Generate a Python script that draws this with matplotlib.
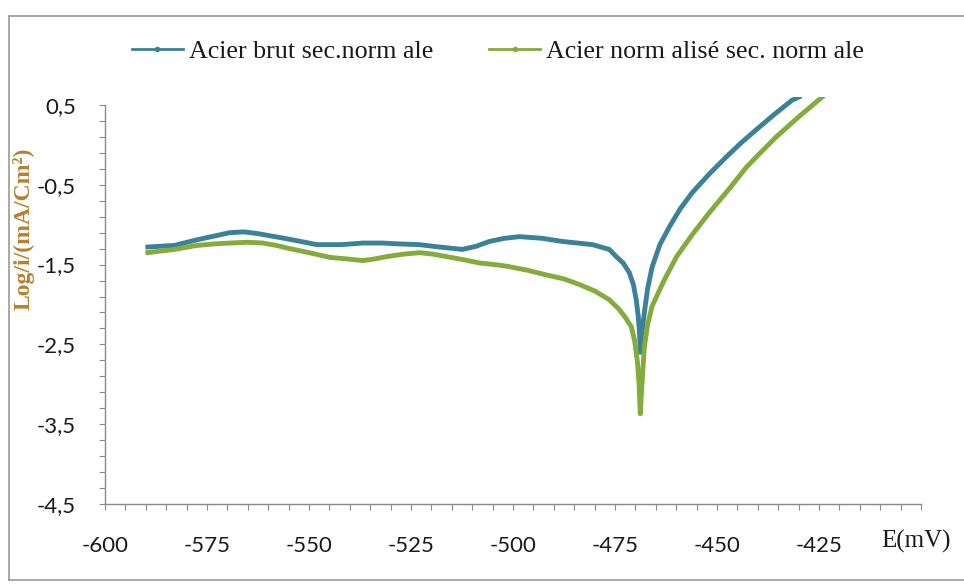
import matplotlib
matplotlib.use('Agg')
import matplotlib.pyplot as plt
from matplotlib.lines import Line2D

plt.rcParams['font.family'] = ['Liberation Serif', 'DejaVu Serif']

# Courbe acier brut (E en mV, log i)
e_brut = [-589.5, -583.0, -577.5, -573.0, -569.4, -566.0, -562.8, -557.2, -552.0, -548.1,
          -542.0, -536.8, -532.0, -528.5, -523.0, -518.0, -512.4, -509.0, -505.8, -502.0,
          -498.4, -493.0, -487.9, -480.5, -476.4, -474.7, -473.0, -471.5, -470.5, -469.8,
          -469.3, -469.0, -468.8, -468.4, -467.8, -467.0, -465.9, -464.0, -461.7, -459.0,
          -456.1, -452.0, -447.7, -444.0, -439.7, -436.0, -431.6, -429.9]
log_brut = [-1.28, -1.26, -1.19, -1.14, -1.10, -1.09, -1.11, -1.16, -1.21, -1.25,
            -1.25, -1.23, -1.23, -1.24, -1.25, -1.28, -1.31, -1.27, -1.21, -1.17,
            -1.15, -1.17, -1.21, -1.25, -1.31, -1.40, -1.48, -1.60, -1.75, -1.94,
            -2.15, -2.35, -2.60, -2.35, -2.10, -1.80, -1.53, -1.25, -1.03, -0.80,
            -0.60, -0.37, -0.15, 0.03, 0.22, 0.38, 0.56, 0.60]

# Courbe acier normalisé
e_norm = [-589.5, -583.0, -577.5, -573.0, -569.4, -565.0, -561.3, -558.0, -554.7, -550.0,
          -544.9, -540.5, -536.8, -534.0, -531.0, -527.0, -522.9, -519.5, -516.3, -512.0,
          -508.2, -504.5, -501.6, -496.5, -491.8, -487.5, -483.7, -480.0, -476.4, -474.0,
          -472.5, -471.0, -470.2, -469.5, -469.1, -468.8, -468.4, -467.8, -467.0, -465.9,
          -463.0, -459.9, -456.0, -451.9, -447.0, -442.8, -439.0, -435.5, -430.0, -424.2]
log_norm = [-1.35, -1.31, -1.26, -1.24, -1.23, -1.22, -1.23, -1.26, -1.30, -1.35,
            -1.41, -1.43, -1.45, -1.43, -1.40, -1.37, -1.35, -1.37, -1.40, -1.44,
            -1.48, -1.50, -1.52, -1.57, -1.63, -1.68, -1.75, -1.83, -1.94, -2.06,
            -2.16, -2.28, -2.45, -2.72, -3.00, -3.37, -3.00, -2.53, -2.25, -2.02,
            -1.70, -1.40, -1.12, -0.85, -0.55, -0.28, -0.08, 0.10, 0.35, 0.60]

labels = ['Acier brut sec.norm ale', 'Acier norm alisé sec. norm ale']
colors = ['#3b8299', '#84ab3b']

x_ticks = [-600, -575, -550, -525, -500, -475, -450, -425]
x_tick_labels = ['-600', '-575', '-550', '-525', '-500', '-475', '-450', '-425']
y_ticks = [0.5, -0.5, -1.5, -2.5, -3.5, -4.5]
y_tick_labels = ['0,5', '-0,5', '-1,5', '-2,5', '-3,5', '-4,5']

tick_font = ['Lato', 'DejaVu Sans']

fig = plt.figure(figsize=(9.64, 5.85), dpi=100)
ax = fig.add_axes([105 / 964, 1 - 504 / 585, 816 / 964, 407 / 585])

ax.plot(e_brut, log_brut, color=colors[0], lw=3.5, solid_joinstyle='round')
ax.plot(e_norm, log_norm, color=colors[1], lw=3.5, solid_joinstyle='round')

ax.set_xlim(-600, -400)
ax.set_ylim(-4.5, 0.6)
ax.spines['top'].set_visible(False)
ax.spines['right'].set_visible(False)
ax.spines['left'].set_bounds(-4.5, 0.5)
for s in ['left', 'bottom']:
    ax.spines[s].set_color('#8a8a8a')
    ax.spines[s].set_linewidth(1.0)

ax.set_xticks(x_ticks)
ax.set_xticklabels(x_tick_labels, family=tick_font, fontsize=16)
ax.set_xticks(list(range(-600, -399, 5)), minor=True)
ax.set_yticks(y_ticks)
ax.set_yticklabels(y_tick_labels, family=tick_font, fontsize=16)
ax.set_yticks([0.5 - 0.2 * i for i in range(26)], minor=True)

ax.tick_params(axis='both', which='both', length=4, width=0.8, color='#8a8a8a',
               direction='out', labelcolor='#1a1a1a')
ax.tick_params(axis='x', pad=19)
ax.tick_params(axis='y', pad=17)

fig.text(916 / 964, 1 - 541 / 585, 'E(mV)', ha='center', va='center', fontsize=18,
         color='#1a1a1a')

fig.text(24 / 964, 1 - 229 / 585, 'Log/i/(mA/Cm²)', rotation=90, ha='center',
         va='center', fontsize=17, fontweight='bold', color='#b5822e')

handles = [Line2D([], [], color=c, lw=2.0, marker='o', markersize=3) for c in colors]
fig.legend(handles, labels, loc='center left', bbox_to_anchor=(132 / 964, 1 - 51 / 585),
           ncol=2, frameon=False, fontsize=18.7, handlelength=1.96, handletextpad=0.23,
           columnspacing=2.15, borderpad=0, borderaxespad=0, labelcolor='#1a1a1a')

# cadre du graphique
frame = dict(color='#9a9a9a', lw=1.2, transform=fig.transFigure)
fig.add_artist(Line2D([9 / 964, 9 / 964], [1 - 16 / 585, 1 - 580 / 585], **frame))
fig.add_artist(Line2D([9 / 964, 1.0], [1 - 16 / 585, 1 - 16 / 585], **frame))
fig.add_artist(Line2D([9 / 964, 1.0], [1 - 580 / 585, 1 - 580 / 585], **frame))

fig.savefig('out.png', dpi=100)
